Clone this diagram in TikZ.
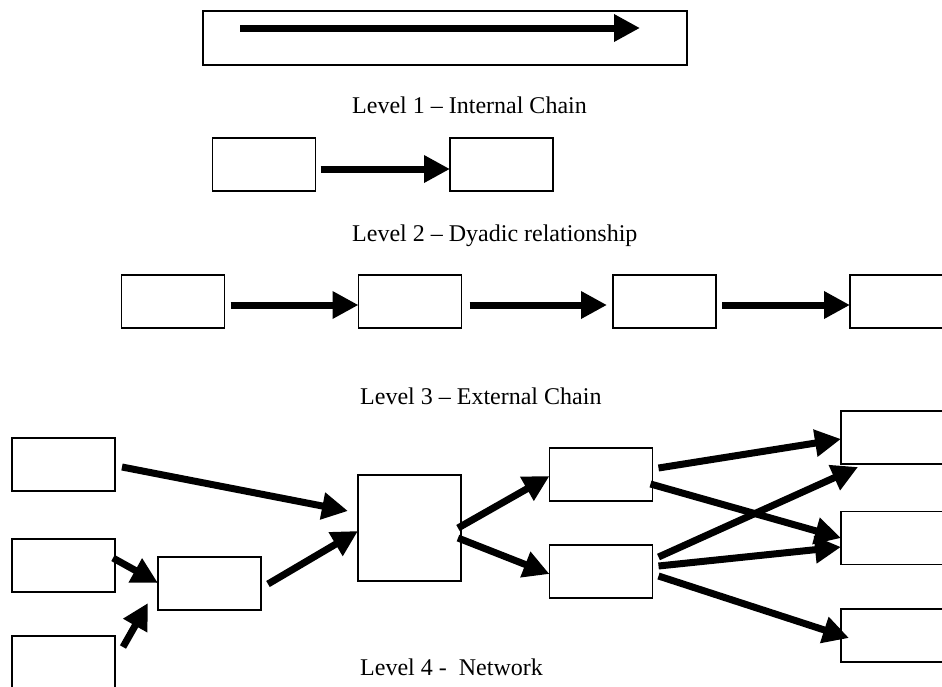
\documentclass[tikz,border=0pt]{standalone}
\usepackage{fontspec}
\setmainfont{Liberation Serif}
\usetikzlibrary{arrows.meta,calc}

\tikzset{
  box/.style={draw, rectangle, line width=1.2pt, inner sep=0pt, outer sep=0pt,
              minimum width=103pt, minimum height=53pt},
  flow/.style={line width=7pt, -{Triangle[length=26pt,width=26pt]}},
  levellabel/.style={anchor=base west, inner sep=0pt,
                     font=\fontsize{24}{28}\selectfont}
}

\begin{document}
\begin{tikzpicture}[x=1pt, y=-1pt]
  \useasboundingbox (0,0) rectangle (942,686);
  \clip (0,0) rectangle (942,686);

  % Level 1: one long box holding the internal flow
  \node[box, minimum width=484pt, minimum height=54pt] (top) at (445,38) {};
  \draw[flow] ($(top.west)+(37,-10)$) -- ($(top.east)+(-47,-10)$);
  \node[levellabel] (lab1) at (352,113) {Level 1 -- Internal Chain};

  % Level 2: two partners
  \node[box] (da) at (264,164.5) {};
  \node[box] (db) at (501.5,164.5) {};
  \draw[flow] ($(da.east)+(5,4.5)$) -- ($(db.west)+(0,4.5)$);
  \node[levellabel] (lab2) at (352,241) {Level 2 -- Dyadic relationship};

  % Level 3: a chain of four
  \node[box] (ea) at (173,301.5) {};
  \node[box] (eb) at (410,301.5) {};
  \node[box] (ec) at (664.5,301.5) {};
  \node[box] (ed) at (901.5,301.5) {};
  \draw[flow] ($(ea.east)+(6,3.5)$) -- ($(eb.west)+(0,3.5)$);
  \draw[flow] ($(eb.east)+(8,3.5)$) -- ($(ec.west)+(-6,3.5)$);
  \draw[flow] ($(ec.east)+(6,3.5)$) -- ($(ed.west)+(0,3.5)$);
  \node[levellabel] (lab3) at (360,404) {Level 3 -- External Chain};

  % Level 4: a network
  \node[box] (na) at (63.5,464.5) {};
  \node[box] (nb) at (63.5,565.5) {};
  \node[box] (nc) at (63.5,662.5) {};
  \node[box] (nd) at (209.5,583.5) {};
  \node[box, minimum height=106pt] (ne) at (409.5,528) {};
  \node[box] (nf) at (601,474.5) {};
  \node[box] (ng) at (601,571.5) {};
  \node[box] (r1) at (892.5,437.5) {};
  \node[box] (r2) at (892.5,538) {};
  \node[box] (r3) at (892.5,635.5) {};

  \draw[flow] ($(na.east)+(7,2.5)$) -- ($(ne.west)+(-10,-17)$);
  \draw[flow] ($(nb.east)+(-2,-7.5)$) -- ($(nd.west)+(0,-0.5)$);
  \draw[flow] ($(nc.east)+(8,-15.5)$) -- ($(nd.south west)+(-10,-7)$);
  \draw[flow] ($(nd.east)+(7,0.5)$) -- ($(ne.west)+(0,3)$);
  \draw[flow] ($(ne.east)+(-3,0)$) -- ($(nf.west)+(0,1.5)$);
  \draw[flow] ($(ne.east)+(-3,10)$) -- ($(ng.west)+(0,2.5)$);
  \draw[flow] ($(nf.east)+(6,-6.5)$) -- ($(r1.west)+(0,1.5)$);
  \draw[flow] ($(nf.east)+(-2,9.5)$) -- ($(r2.west)+(0,0)$);
  \draw[flow] ($(ng.east)+(6,-14.5)$) -- ($(r1.south west)+(17,3)$);
  \draw[flow] ($(ng.east)+(6,-5.5)$) -- ($(r2.west)+(0,9)$);
  \draw[flow] ($(ng.east)+(6,4.5)$) -- ($(r3.west)+(8,2.5)$);
  \node[levellabel] (lab4) at (360,675) {Level 4 -\ \ Network};
\end{tikzpicture}
\end{document}
